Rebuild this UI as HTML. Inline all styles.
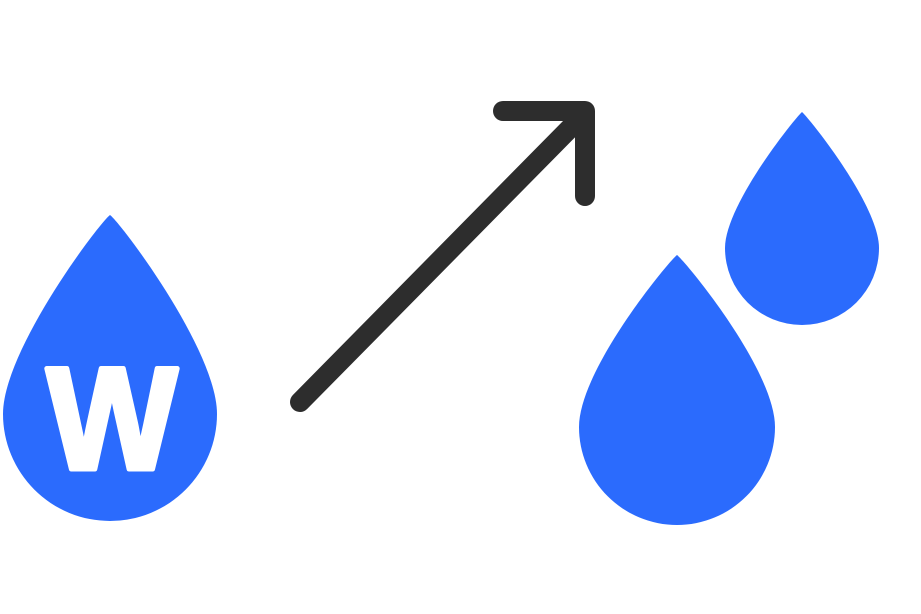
<!DOCTYPE html>
<html><head><meta charset="utf-8"><style>html,body{margin:0;padding:0;background:#fff}svg{display:block}</style></head>
<body>
<svg width="921" height="614" viewBox="0 0 921 614" xmlns="http://www.w3.org/2000/svg">
<rect width="921" height="614" fill="#fff"/>
<g fill="#2b6bfd">
<path d="M110,215 C100,222 3,350 3,414 A107,107 0 0 0 217,414 C217,350 120,222 110,215 Z"/>
<path d="M677,255 C668,262 579,370 579,427 A98,98 0 0 0 775,427 C775,370 686,262 677,255 Z"/>
<path d="M802,112 C795,118 725,205 725,248 A77,77 0 0 0 879,248 C879,205 809,118 802,112 Z"/>
</g>
<text x="112" y="469" text-anchor="middle" font-family="Liberation Sans, sans-serif" font-weight="bold" font-size="146" fill="#fff" stroke="#fff" stroke-width="5" stroke-linejoin="round" transform="translate(112 0) scale(0.95 1) translate(-112 0)">W</text>
<g stroke="#2d2d2d" stroke-width="20" stroke-linecap="round" stroke-linejoin="round" fill="none">
<line x1="300" y1="402" x2="582" y2="116"/>
<polyline points="503,111 585,111 585,196"/>
</g>
</svg>
</body></html>
